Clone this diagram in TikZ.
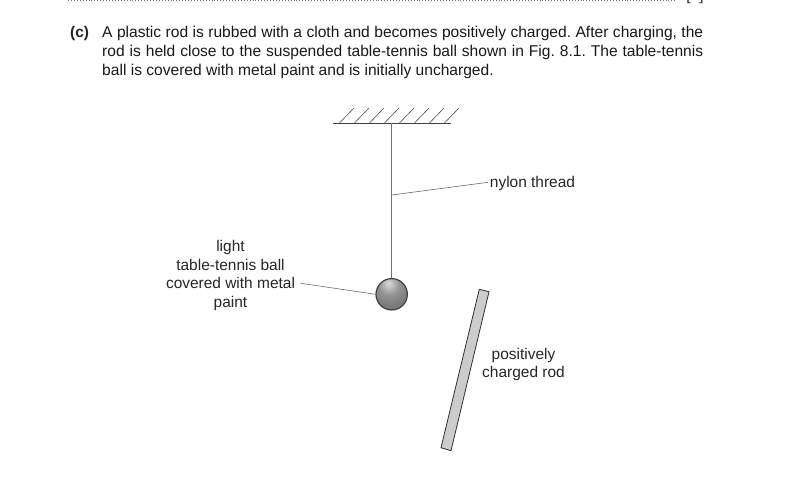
\documentclass[tikz,border=0pt]{standalone}
\usepackage{fontspec}
\setmainfont{Liberation Sans}
\pgfdeclareradialshading{ballshade}{\pgfpoint{-5bp}{18bp}}{color(0bp)=(black!14); color(16bp)=(black!42); color(40bp)=(black!58); color(70bp)=(black!68); color(100bp)=(black!72)}
\tikzset{
    lbl/.style={inner sep=0pt, align=center, font=\fontsize{13.2}{16}\selectfont, text=black!85},
    leader/.style={black!55, line width=0.55pt},
    para/.style={inner sep=0pt, anchor=north west, text width=513pt, align=justify, font=\frenchspacing\fontsize{13.3}{16}\selectfont, text=black!90}
}
\begin{document}
\begin{tikzpicture}[x=0.03cm, y=-0.03cm]
    \useasboundingbox (0,0) rectangle (800,479);

    % top of page
    \draw[black!55, line width=0.5pt, dotted] (68,0.5) -- (675,0.5);
    \node[lbl, anchor=base] (mark) at (695,0.5) {[2]};

    % question text
    \node[lbl, anchor=north west, font=\fontsize{13.2}{16}\selectfont\bfseries] (part) at (70,26) {(c)};
    \node[para] (question) at (102,26) {A plastic rod is rubbed with a cloth and becomes positively charged. After charging, the\linebreak rod is held close to the suspended table-tennis ball shown in Fig. 8.1. The table-tennis\linebreak ball is covered with metal paint and is initially uncharged.};

    % ceiling
    \draw[black!75, line width=0.7pt] (333,123.5) -- (451,123.5);
    \foreach \x in {339,354,...,444}
        \draw[black!70, line width=0.5pt] (\x,123.5) -- (\x+15,108);

    % ball with thread
    \coordinate (top) at (391.7,123.5);
    \shade[shading=ballshade] (391.7,294.3) circle (15.7);
    \draw[black!75, line width=1pt] (391.7,294.3) circle (15.7);
    \node[circle, minimum size=31.4*0.03cm, inner sep=0pt] (ball) at (391.7,294.3) {};
    \draw[leader] (top) -- (ball.north);

    % rod
    \draw[black!80, fill=black!20, line width=0.7pt] (479.3,289.3) -- (489,291.7) -- (451,450.7) -- (441,447.7) -- cycle;

    % labels
    \node[lbl] (thread) at (532.5,183.5) {nylon thread};
    \coordinate (threadpt) at (391.7,195);
    \draw[leader] (threadpt) -- ([xshift=-1.5pt,yshift=1pt]thread.west);

    \node[lbl, anchor=north] (balltext) at (230.5,240) {light\\table-tennis ball\\covered with metal\\paint};
    \coordinate (balltextend) at (300.7,283.3);
    \draw[leader] (balltextend) -- (ball.west);

    \node[lbl] (rodtext) at (523.5,364.5) {positively\\charged rod};
\end{tikzpicture}
\end{document}
